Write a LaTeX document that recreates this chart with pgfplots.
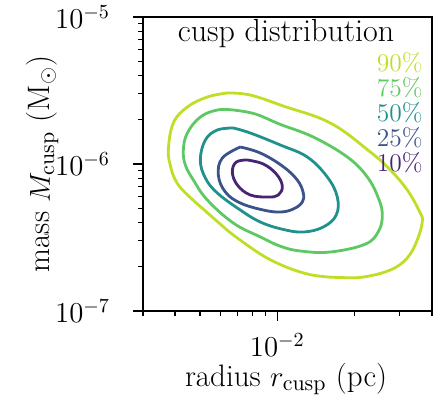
\documentclass[border=0pt]{standalone}
\usepackage{pgfplots}
\pgfplotsset{compat=1.18}
\definecolor{c90}{RGB}{189,223,38}
\definecolor{c75}{RGB}{94,201,98}
\definecolor{c50}{RGB}{33,145,140}
\definecolor{c25}{RGB}{59,82,139}
\definecolor{c10}{RGB}{72,36,117}
\begin{document}
\begin{tikzpicture}
\begin{axis}[
  name=ax,
  scale only axis,
  width=144.5pt, height=147pt,
  xmode=log, ymode=log,
  xmin=3e-3, xmax=4e-2,
  ymin=1e-7, ymax=1e-5,
  xtick={1e-2},
  minor xtick={3e-3,4e-3,5e-3,6e-3,7e-3,8e-3,9e-3,2e-2,3e-2,4e-2},
  ytick={1e-7,1e-6,1e-5},
  minor ytick={2e-7,3e-7,4e-7,5e-7,6e-7,7e-7,8e-7,9e-7,2e-6,3e-6,4e-6,5e-6,6e-6,7e-6,8e-6,9e-6},
  axis line style={line width=1pt},
  tick pos=left,
  tick align=outside,
  major tick length=5pt,
  minor tick length=2.5pt,
  every tick/.style={black, line width=0.8pt},
  every minor tick/.style={black, line width=0.6pt},
  tick label style={font=\fontsize{13.75}{16}\selectfont},
  yticklabel style={xshift=-8pt},
  xticklabel style={inner sep=1pt, yshift=-5pt},
  label style={font=\fontsize{15.5}{18}\selectfont},
  xlabel={radius $r_\mathrm{cusp}$ (pc)},
  ylabel={mass $M_\mathrm{cusp}$ (M$_\odot$)},
  xlabel style={at={(axis description cs:0.495,-0.257)}, anchor=base, inner sep=1pt},
  ylabel style={at={(axis description cs:-0.322,0.5)}, anchor=base},
  clip=false,
]
% 90%
\addplot[c90, line width=1.4pt, smooth, tension=0.65] coordinates {
(6.389e-3,3.041e-6) (7.850e-3,2.947e-6) (1.055e-2,2.480e-6) (1.608e-2,1.901e-6)
(2.301e-2,1.207e-6) (2.753e-2,9.104e-7) (3.205e-2,6.656e-7) (3.601e-2,4.642e-7)
(3.666e-2,4.031e-7) (3.505e-2,3.041e-7) (3.205e-2,2.294e-7) (2.753e-2,1.901e-7)
(2.161e-2,1.703e-7) (1.758e-2,1.690e-7) (1.444e-2,1.730e-7) (1.229e-2,1.842e-7)
(1.027e-2,2.072e-7) (8.587e-3,2.442e-7) (6.742e-3,3.289e-7) (6.000e-3,3.900e-7)
(5.300e-3,4.720e-7) (4.650e-3,5.780e-7) (4.200e-3,6.900e-7) (3.980e-3,8.000e-7)
(3.850e-3,9.500e-7) (3.766e-3,1.245e-6)
(3.938e-3,1.901e-6) (4.465e-3,2.442e-6) (5.341e-3,2.856e-6) (6.389e-3,3.041e-6)
};
% 75%
\addplot[c75, line width=1.4pt, smooth, tension=0.65] coordinates {
(6.742e-3,2.330e-6) (8.200e-3,2.190e-6) (1.027e-2,1.860e-6) (1.380e-2,1.526e-6)
(1.873e-2,1.116e-6) (2.240e-2,8.158e-7) (2.480e-2,5.800e-7) (2.562e-2,4.500e-7)
(2.480e-2,3.500e-7) (2.200e-2,2.850e-7) (1.608e-2,2.520e-7) (1.229e-2,2.560e-7)
(1.027e-2,2.760e-7) (8.587e-3,3.190e-7) (6.742e-3,3.968e-7) (5.341e-3,5.690e-7)
(4.712e-3,7.784e-7) (4.385e-3,9.845e-7) (4.307e-3,1.245e-6) (4.465e-3,1.625e-6)
(5.016e-3,2.088e-6) (5.841e-3,2.330e-6) (6.742e-3,2.330e-6)
};
% 50%
\addplot[c50, line width=1.4pt, smooth, tension=0.65] coordinates {
(6.742e-3,1.758e-6) (7.850e-3,1.625e-6) (1.027e-2,1.347e-6) (1.308e-2,1.116e-6)
(1.565e-2,8.158e-7) (1.712e-2,5.964e-7) (1.696e-2,4.499e-7) (1.510e-2,3.728e-7)
(1.262e-2,3.446e-7) (1.046e-2,3.600e-7) (8.587e-3,4.031e-7) (7.178e-3,4.864e-7)
(5.841e-3,6.350e-7) (5.246e-3,8.032e-7) (5.016e-3,1.065e-6) (5.246e-3,1.457e-6)
(5.841e-3,1.703e-6) (6.742e-3,1.758e-6)
};
% 25%
\addplot[c25, line width=1.4pt, smooth, tension=0.65] coordinates {
(7.178e-3,1.305e-6) (8.587e-3,1.188e-6) (1.046e-2,9.692e-7) (1.196e-2,7.784e-7)
(1.262e-2,6.350e-7) (1.251e-2,5.514e-7) (1.154e-2,4.941e-7) (1.027e-2,4.714e-7)
(8.820e-3,4.864e-7) (7.178e-3,5.429e-7) (6.276e-3,6.450e-7) (5.894e-3,8.418e-7)
(6.109e-3,1.098e-6) (7.178e-3,1.305e-6)
};
% 10%
\addplot[c10, line width=1.4pt, smooth, tension=0.65] coordinates {
(7.642e-3,1.065e-6) (8.820e-3,1.000e-6) (9.910e-3,8.551e-7) (1.046e-2,7.085e-7)
(1.009e-2,6.154e-7) (9.226e-3,5.964e-7) (7.850e-3,6.154e-7) (6.988e-3,7.197e-7)
(6.682e-3,8.823e-7) (6.926e-3,1.032e-6) (7.642e-3,1.065e-6)
};
\node[anchor=base, font=\fontsize{16}{19}\selectfont] at (rel axis cs:0.495,0.915) {cusp distribution};
\node[anchor=base east, text=c90, inner sep=0pt, font=\fontsize{12.75}{15}\selectfont] at (rel axis cs:0.969,0.8146) {90\%};
\node[anchor=base east, text=c75, inner sep=0pt, font=\fontsize{12.75}{15}\selectfont] at (rel axis cs:0.969,0.731) {75\%};
\node[anchor=base east, text=c50, inner sep=0pt, font=\fontsize{12.75}{15}\selectfont] at (rel axis cs:0.969,0.644) {50\%};
\node[anchor=base east, text=c25, inner sep=0pt, font=\fontsize{12.75}{15}\selectfont] at (rel axis cs:0.969,0.5595) {25\%};
\node[anchor=base east, text=c10, inner sep=0pt, font=\fontsize{12.75}{15}\selectfont] at (rel axis cs:0.969,0.4745) {10\%};
\end{axis}
\pgfresetboundingbox
\useasboundingbox ([shift={(-71.5pt,-42pt)}]ax.south west) rectangle ([shift={(6pt,8.5pt)}]ax.north east);
\end{tikzpicture}
\end{document}
